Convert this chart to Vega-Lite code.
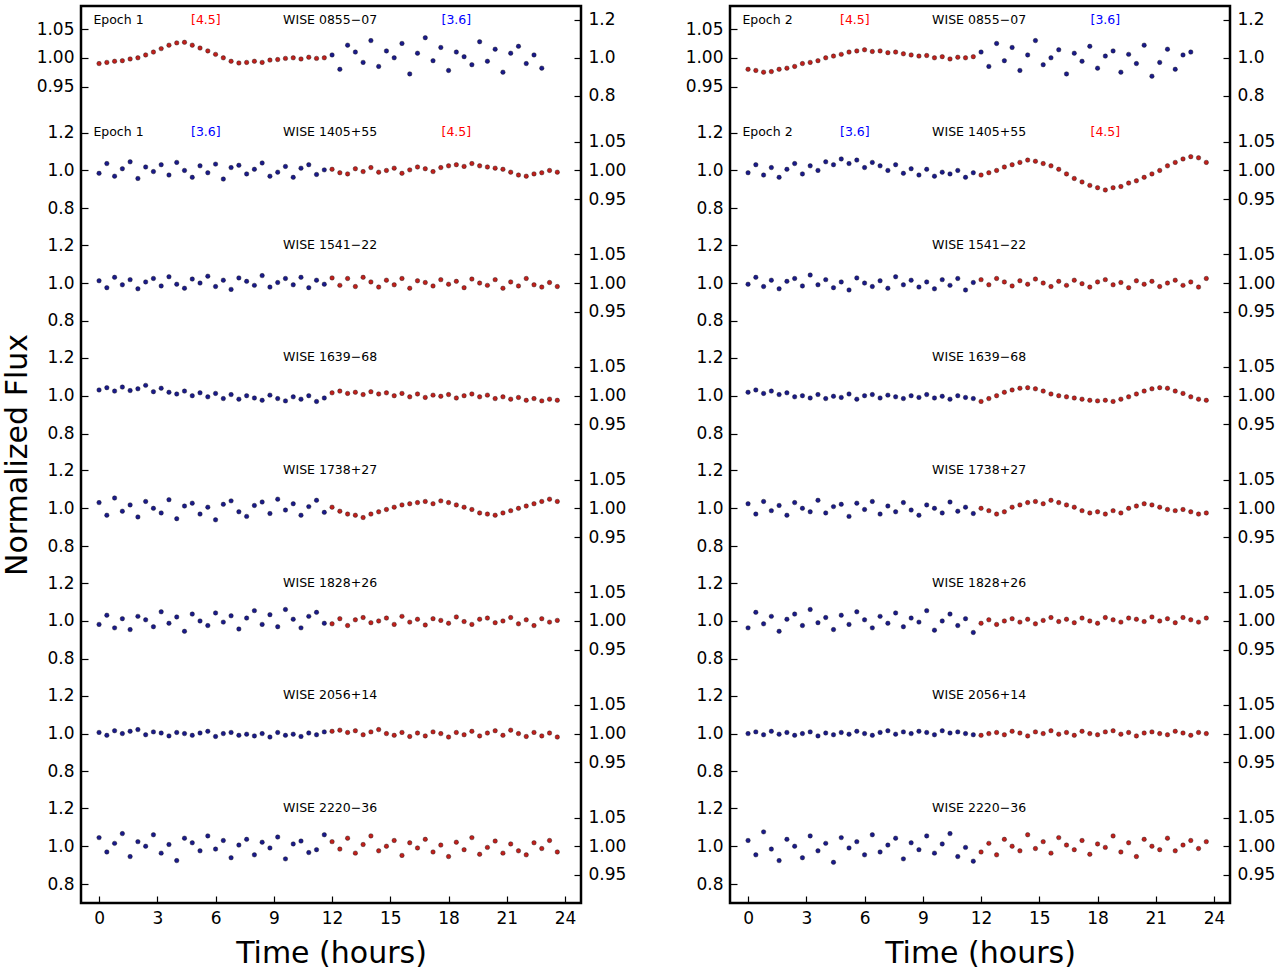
{
  "$schema": "https://vega.github.io/schema/vega-lite/v6.json",
  "background": "white",
  "padding": {"left": 0, "top": 4, "right": 5, "bottom": 5},
  "config": {
    "font": "DejaVu Sans",
    "view": {"stroke": "black", "strokeWidth": 2.5},
    "axis": {"grid": false, "domain": false, "tickColor": "black", "tickSize": -7, "tickWidth": 1.2, "labelFontSize": 17, "labelColor": "black", "labelPadding": 14, "titleFontWeight": "normal", "titleFontSize": 30, "titleColor": "black"}
  },
  "datasets": {
    "curves": [
      {"p":1,"r":7,"t":[0,0.4,0.8,1.2,1.6,2,2.4,2.8,3.2,3.6,4,4.4,4.8,5.2,5.6,6,6.4,6.8,7.2,7.6,8,8.4,8.8,9.2,9.6,10,10.4,10.8,11.2,11.6,12,12.4,12.8,13.2,13.6,14,14.4,14.8,15.2,15.6,16,16.4,16.8,17.2,17.6,18,18.4,18.8,19.2,19.6,20,20.4,20.8,21.2,21.6,22,22.4,22.8],"d":[-10,-8,-6,-5,-2,0,5,10,16,22,26,27,22,17,12,6,0,-6,-9,-8,-6,-8,-4,-3,-1,0,-2,1,-1,0,5,-20,22,10,-8,30,-15,12,0,25,-28,8,35,-5,18,-22,10,2,-12,28,-6,15,-25,8,20,-10,5,-18]},
      {"p":1,"r":6,"t":[0,0.4,0.8,1.2,1.6,2,2.4,2.8,3.2,3.6,4,4.4,4.8,5.2,5.6,6,6.4,6.8,7.2,7.6,8,8.4,8.8,9.2,9.6,10,10.4,10.8,11.2,11.6,12,12.4,12.8,13.2,13.6,14,14.4,14.8,15.2,15.6,16,16.4,16.8,17.2,17.6,18,18.4,18.8,19.2,19.6,20,20.4,20.8,21.2,21.6,22,22.4,22.8,23.2,23.6],"d":[-5,12,-10,3,15,-14,6,-2,10,-8,14,0,-12,8,-4,11,-15,5,9,-6,2,13,-10,-3,7,-12,4,10,-7,1,2,-4,-6,3,-2,5,-3,0,4,-5,1,6,3,-2,5,8,10,7,12,8,6,4,2,-3,-8,-10,-6,-4,0,-3]},
      {"p":1,"r":5,"t":[0,0.4,0.8,1.2,1.6,2,2.4,2.8,3.2,3.6,4,4.4,4.8,5.2,5.6,6,6.4,6.8,7.2,7.6,8,8.4,8.8,9.2,9.6,10,10.4,10.8,11.2,11.6,12,12.4,12.8,13.2,13.6,14,14.4,14.8,15.2,15.6,16,16.4,16.8,17.2,17.6,18,18.4,18.8,19.2,19.6,20,20.4,20.8,21.2,21.6,22,22.4,22.8,23.2,23.6],"d":[4,-8,10,-3,6,-10,2,8,-5,11,-2,-9,7,0,12,-6,5,-11,9,3,-4,13,-7,1,8,-3,10,-8,5,-2,9,-4,8,-6,10,2,-7,5,-3,8,-9,4,1,-5,6,-2,3,-8,7,0,-4,6,-9,2,-5,8,-3,-7,1,-6]},
      {"p":1,"r":4,"t":[0,0.4,0.8,1.2,1.6,2,2.4,2.8,3.2,3.6,4,4.4,4.8,5.2,5.6,6,6.4,6.8,7.2,7.6,8,8.4,8.8,9.2,9.6,10,10.4,10.8,11.2,11.6,12,12.4,12.8,13.2,13.6,14,14.4,14.8,15.2,15.6,16,16.4,16.8,17.2,17.6,18,18.4,18.8,19.2,19.6,20,20.4,20.8,21.2,21.6,22,22.4,22.8,23.2,23.6],"d":[10,14,8,15,9,12,18,7,13,6,3,8,0,5,-2,4,-5,2,-6,0,-4,-8,1,-5,-9,-2,-6,0,-10,-4,5,8,4,6,2,7,3,5,0,4,-2,3,-3,1,-1,2,-4,0,3,-2,1,-5,-2,-6,-3,-8,-5,-9,-6,-8]},
      {"p":1,"r":3,"t":[0,0.4,0.8,1.2,1.6,2,2.4,2.8,3.2,3.6,4,4.4,4.8,5.2,5.6,6,6.4,6.8,7.2,7.6,8,8.4,8.8,9.2,9.6,10,10.4,10.8,11.2,11.6,12,12.4,12.8,13.2,13.6,14,14.4,14.8,15.2,15.6,16,16.4,16.8,17.2,17.6,18,18.4,18.8,19.2,19.6,20,20.4,20.8,21.2,21.6,22,22.4,22.8,23.2,23.6],"d":[10,-12,18,-5,6,-15,12,0,-8,15,-18,4,9,-10,2,-20,7,13,-6,-14,5,11,-9,16,-3,8,-12,3,14,-7,2,-5,-10,-12,-16,-10,-6,-2,2,6,8,10,12,8,13,10,6,2,-2,-8,-10,-12,-8,-4,0,4,8,12,16,12]},
      {"p":1,"r":2,"t":[0,0.4,0.8,1.2,1.6,2,2.4,2.8,3.2,3.6,4,4.4,4.8,5.2,5.6,6,6.4,6.8,7.2,7.6,8,8.4,8.8,9.2,9.6,10,10.4,10.8,11.2,11.6,12,12.4,12.8,13.2,13.6,14,14.4,14.8,15.2,15.6,16,16.4,16.8,17.2,17.6,18,18.4,18.8,19.2,19.6,20,20.4,20.8,21.2,21.6,22,22.4,22.8,23.2,23.6],"d":[-6,10,-12,4,-15,8,2,-10,16,-4,7,-18,12,0,-8,14,-2,9,-14,5,18,-6,11,-10,20,3,-12,8,15,-4,-5,4,-8,2,6,-3,0,5,-6,8,-2,3,-7,4,1,-4,7,-1,-6,3,5,-3,0,6,-5,2,-8,4,-2,1]},
      {"p":1,"r":1,"t":[0,0.4,0.8,1.2,1.6,2,2.4,2.8,3.2,3.6,4,4.4,4.8,5.2,5.6,6,6.4,6.8,7.2,7.6,8,8.4,8.8,9.2,9.6,10,10.4,10.8,11.2,11.6,12,12.4,12.8,13.2,13.6,14,14.4,14.8,15.2,15.6,16,16.4,16.8,17.2,17.6,18,18.4,18.8,19.2,19.6,20,20.4,20.8,21.2,21.6,22,22.4,22.8,23.2,23.6],"d":[2,-3,5,0,4,7,-2,3,1,-4,2,0,-3,1,4,-5,0,2,-3,-1,-4,0,-6,2,-3,-1,-5,1,-2,3,4,6,2,5,-2,3,7,0,-3,2,-5,1,-4,3,0,-6,2,-2,4,-4,1,5,-3,6,0,-5,2,-4,1,-6]},
      {"p":1,"r":0,"t":[0,0.4,0.8,1.2,1.6,2,2.4,2.8,3.2,3.6,4,4.4,4.8,5.2,5.6,6,6.4,6.8,7.2,7.6,8,8.4,8.8,9.2,9.6,10,10.4,10.8,11.2,11.6,12,12.4,12.8,13.2,13.6,14,14.4,14.8,15.2,15.6,16,16.4,16.8,17.2,17.6,18,18.4,18.8,19.2,19.6,20,20.4,20.8,21.2,21.6,22,22.4,22.8,23.2,23.6],"d":[15,-10,5,22,-18,8,0,20,-12,3,-25,14,6,-8,18,-5,10,-20,2,12,-15,7,-3,16,-22,4,9,-11,-6,20,8,-5,14,-12,3,18,-8,0,10,-16,6,-3,12,-10,2,-18,7,-6,15,-14,-2,9,-12,4,-8,-15,6,-4,10,-10]},
      {"p":2,"r":7,"t":[0,0.4,0.8,1.2,1.6,2,2.4,2.8,3.2,3.6,4,4.4,4.8,5.2,5.6,6,6.4,6.8,7.2,7.6,8,8.4,8.8,9.2,9.6,10,10.4,10.8,11.2,11.6,12,12.4,12.8,13.2,13.6,14,14.4,14.8,15.2,15.6,16,16.4,16.8,17.2,17.6,18,18.4,18.8,19.2,19.6,20,20.4,20.8,21.2,21.6,22,22.4,22.8],"d":[-20,-22,-25,-24,-20,-18,-15,-10,-8,-5,0,3,6,10,12,14,11,12,9,10,7,5,3,4,0,2,-2,1,0,2,10,-15,25,-5,18,-22,5,30,-12,0,14,-28,8,-6,20,-18,3,12,-25,6,-10,22,-32,-8,15,-20,5,10]},
      {"p":2,"r":6,"t":[0,0.4,0.8,1.2,1.6,2,2.4,2.8,3.2,3.6,4,4.4,4.8,5.2,5.6,6,6.4,6.8,7.2,7.6,8,8.4,8.8,9.2,9.6,10,10.4,10.8,11.2,11.6,12,12.4,12.8,13.2,13.6,14,14.4,14.8,15.2,15.6,16,16.4,16.8,17.2,17.6,18,18.4,18.8,19.2,19.6,20,20.4,20.8,21.2,21.6,22,22.4,22.8,23.2,23.6],"d":[-4,10,-8,5,-12,2,12,-6,8,0,15,10,20,12,18,5,14,8,0,10,-5,3,-8,2,-10,-3,-6,0,-12,-4,-8,-4,0,6,10,14,18,16,12,8,2,-6,-14,-20,-26,-30,-34,-30,-28,-22,-18,-12,-6,0,8,14,20,24,22,14]},
      {"p":2,"r":5,"t":[0,0.4,0.8,1.2,1.6,2,2.4,2.8,3.2,3.6,4,4.4,4.8,5.2,5.6,6,6.4,6.8,7.2,7.6,8,8.4,8.8,9.2,9.6,10,10.4,10.8,11.2,11.6,12,12.4,12.8,13.2,13.6,14,14.4,14.8,15.2,15.6,16,16.4,16.8,17.2,17.6,18,18.4,18.8,19.2,19.6,20,20.4,20.8,21.2,21.6,22,22.4,22.8,23.2,23.6],"d":[-2,10,-6,5,-10,3,8,-5,14,-3,6,-8,2,-12,9,0,-6,4,-9,11,-3,5,-7,2,-10,6,-4,8,-12,1,6,-3,8,2,-5,4,-2,7,0,-6,3,-4,5,-1,-7,2,6,-3,1,-8,4,-2,3,-6,0,5,-4,2,-7,8]},
      {"p":2,"r":4,"t":[0,0.4,0.8,1.2,1.6,2,2.4,2.8,3.2,3.6,4,4.4,4.8,5.2,5.6,6,6.4,6.8,7.2,7.6,8,8.4,8.8,9.2,9.6,10,10.4,10.8,11.2,11.6,12,12.4,12.8,13.2,13.6,14,14.4,14.8,15.2,15.6,16,16.4,16.8,17.2,17.6,18,18.4,18.8,19.2,19.6,20,20.4,20.8,21.2,21.6,22,22.4,22.8,23.2,23.6],"d":[6,10,4,8,2,5,-2,0,-4,2,-5,-1,-3,3,-6,0,2,-4,1,-2,-5,0,-3,2,-4,-1,-6,0,-3,-5,-10,-5,0,6,10,13,14,12,8,3,0,-2,-4,-6,-8,-9,-8,-10,-6,-2,3,8,12,14,13,8,4,-2,-6,-8]},
      {"p":2,"r":3,"t":[0,0.4,0.8,1.2,1.6,2,2.4,2.8,3.2,3.6,4,4.4,4.8,5.2,5.6,6,6.4,6.8,7.2,7.6,8,8.4,8.8,9.2,9.6,10,10.4,10.8,11.2,11.6,12,12.4,12.8,13.2,13.6,14,14.4,14.8,15.2,15.6,16,16.4,16.8,17.2,17.6,18,18.4,18.8,19.2,19.6,20,20.4,20.8,21.2,21.6,22,22.4,22.8,23.2,23.6],"d":[8,-10,12,-4,5,-12,10,0,-6,14,-8,3,7,-14,9,-2,12,-10,4,-6,10,-3,-12,6,0,-8,11,-5,2,-9,0,-4,-10,-6,2,6,10,12,8,14,10,6,2,-4,-8,-6,-10,-4,-8,0,4,8,6,2,-2,-4,-2,-6,-10,-8]},
      {"p":2,"r":2,"t":[0,0.4,0.8,1.2,1.6,2,2.4,2.8,3.2,3.6,4,4.4,4.8,5.2,5.6,6,6.4,6.8,7.2,7.6,8,8.4,8.8,9.2,9.6,10,10.4,10.8,11.2,11.6,12,12.4,12.8,13.2,13.6,14,14.4,14.8,15.2,15.6,16,16.4,16.8,17.2,17.6,18,18.4,18.8,19.2,19.6,20,20.4,20.8,21.2,21.6,22,22.4,22.8,23.2,23.6],"d":[-12,15,-5,8,-18,3,12,-8,20,-3,6,-15,10,-6,16,2,-12,8,-4,14,-10,5,-2,18,-16,0,12,-8,4,-20,-4,2,-6,0,4,-2,3,-5,1,6,-1,3,-3,5,0,-4,6,2,-2,5,3,-1,7,0,4,-3,6,2,-2,5]},
      {"p":2,"r":1,"t":[0,0.4,0.8,1.2,1.6,2,2.4,2.8,3.2,3.6,4,4.4,4.8,5.2,5.6,6,6.4,6.8,7.2,7.6,8,8.4,8.8,9.2,9.6,10,10.4,10.8,11.2,11.6,12,12.4,12.8,13.2,13.6,14,14.4,14.8,15.2,15.6,16,16.4,16.8,17.2,17.6,18,18.4,18.8,19.2,19.6,20,20.4,20.8,21.2,21.6,22,22.4,22.8,23.2,23.6],"d":[0,3,-2,4,-1,2,-3,0,3,-4,1,-2,2,-1,4,0,-3,2,5,-1,3,0,4,2,-2,5,1,3,0,-2,-3,0,2,-2,4,1,-4,3,0,5,-1,2,-3,4,0,-2,3,5,-1,2,-4,1,3,0,-2,4,1,-3,2,0]},
      {"p":2,"r":0,"t":[0,0.4,0.8,1.2,1.6,2,2.4,2.8,3.2,3.6,4,4.4,4.8,5.2,5.6,6,6.4,6.8,7.2,7.6,8,8.4,8.8,9.2,9.6,10,10.4,10.8,11.2,11.6,12,12.4,12.8,13.2,13.6,14,14.4,14.8,15.2,15.6,16,16.4,16.8,17.2,17.6,18,18.4,18.8,19.2,19.6,20,20.4,20.8,21.2,21.6,22,22.4,22.8,23.2,23.6],"d":[10,-15,25,-5,-25,12,0,-20,18,-8,5,-28,15,-3,8,-15,20,-10,2,14,-22,6,-6,18,-12,4,22,-18,-2,-26,-10,5,-15,12,0,-8,20,-4,8,-12,15,2,-6,10,-14,4,-2,18,-10,6,-18,12,0,-6,14,-8,2,10,-4,8]}
    ],
    "labels": [
      {"p":1,"r":7,"x":1.0,"s":"Epoch 1","c":"black"},
      {"p":1,"r":7,"x":5.5,"s":"[4.5]","c":"#ff0000"},
      {"p":1,"r":7,"x":11.9,"s":"WISE 0855−07","c":"black"},
      {"p":1,"r":7,"x":18.4,"s":"[3.6]","c":"#0000ff"},
      {"p":1,"r":6,"x":1.0,"s":"Epoch 1","c":"black"},
      {"p":1,"r":6,"x":5.5,"s":"[3.6]","c":"#0000ff"},
      {"p":1,"r":6,"x":11.9,"s":"WISE 1405+55","c":"black"},
      {"p":1,"r":6,"x":18.4,"s":"[4.5]","c":"#ff0000"},
      {"p":1,"r":5,"x":11.9,"s":"WISE 1541−22","c":"black"},
      {"p":1,"r":4,"x":11.9,"s":"WISE 1639−68","c":"black"},
      {"p":1,"r":3,"x":11.9,"s":"WISE 1738+27","c":"black"},
      {"p":1,"r":2,"x":11.9,"s":"WISE 1828+26","c":"black"},
      {"p":1,"r":1,"x":11.9,"s":"WISE 2056+14","c":"black"},
      {"p":1,"r":0,"x":11.9,"s":"WISE 2220−36","c":"black"},
      {"p":2,"r":7,"x":1.0,"s":"Epoch 2","c":"black"},
      {"p":2,"r":7,"x":5.5,"s":"[4.5]","c":"#ff0000"},
      {"p":2,"r":7,"x":11.9,"s":"WISE 0855−07","c":"black"},
      {"p":2,"r":7,"x":18.4,"s":"[3.6]","c":"#0000ff"},
      {"p":2,"r":6,"x":1.0,"s":"Epoch 2","c":"black"},
      {"p":2,"r":6,"x":5.5,"s":"[3.6]","c":"#0000ff"},
      {"p":2,"r":6,"x":11.9,"s":"WISE 1405+55","c":"black"},
      {"p":2,"r":6,"x":18.4,"s":"[4.5]","c":"#ff0000"},
      {"p":2,"r":5,"x":11.9,"s":"WISE 1541−22","c":"black"},
      {"p":2,"r":4,"x":11.9,"s":"WISE 1639−68","c":"black"},
      {"p":2,"r":3,"x":11.9,"s":"WISE 1738+27","c":"black"},
      {"p":2,"r":2,"x":11.9,"s":"WISE 1828+26","c":"black"},
      {"p":2,"r":1,"x":11.9,"s":"WISE 2056+14","c":"black"},
      {"p":2,"r":0,"x":11.9,"s":"WISE 2220−36","c":"black"}
    ]
  },
  "spacing": 55,
  "hconcat": [
    {
      "width": 500, "height": 897,
      "resolve": {"scale": {"y": "independent", "x": "independent"}},
      "layer": [
        {
          "data": {"name": "curves"},
          "transform": [
            {"filter": "datum.p == 1"},
            {"flatten": ["t", "d"]},
            {"calculate": "datum.r + datum.d * 0.0051", "as": "y"},
            {"calculate": "((datum.r == 7) == (datum.t < 12)) ? '4.5' : '3.6'", "as": "band"}
          ],
          "mark": {"type": "circle", "size": 20, "opacity": 1, "stroke": "#111", "strokeWidth": 0.4},
          "encoding": {
            "x": {"field": "t", "type": "quantitative", "scale": {"domain": [-0.93, 24.82], "nice": false, "zero": false},
              "axis": {"values": [0,3,6,9,12,15,18,21,24], "title": "Time (hours)", "titlePadding": 12}},
            "y": {"field": "y", "type": "quantitative", "scale": {"domain": [-0.504, 7.46], "nice": false, "zero": false},
              "axis": {"orient": "left", "title": "Normalized Flux", "titlePadding": 4,
                "values": [6.745,7,7.255,-0.336,0,0.336,0.664,1,1.336,1.664,2,2.336,2.664,3,3.336,3.664,4,4.336,4.664,5,5.336,5.664,6,6.336],
                "labelExpr": "datum.value > 6.6 ? (abs(datum.value - round(datum.value)) < 0.01 ? '1.00' : (datum.value > round(datum.value) ? '1.05' : '0.95')) : (abs(datum.value - round(datum.value)) < 0.01 ? '1.0' : (datum.value > round(datum.value) ? '1.2' : '0.8'))"}},
            "color": {"field": "band", "type": "nominal", "scale": {"domain": ["3.6", "4.5"], "range": ["#1a1a8a", "#c0201c"]}, "legend": null}
          }
        },
        {
          "data": {"name": "labels"},
          "transform": [
            {"filter": "datum.p == 1"},
            {"calculate": "datum.r + 0.34", "as": "y"}
          ],
          "mark": {"type": "text", "fontSize": 12.5, "align": "center", "baseline": "middle"},
          "encoding": {
            "x": {"field": "x", "type": "quantitative", "scale": {"domain": [-0.93, 24.82], "nice": false, "zero": false}, "axis": null},
            "y": {"field": "y", "type": "quantitative", "scale": {"domain": [-0.504, 7.46], "nice": false, "zero": false},
              "axis": {"orient": "right", "title": null,
                "values": [6.664,7,7.336,-0.255,0,0.255,0.745,1,1.255,1.745,2,2.255,2.745,3,3.255,3.745,4,4.255,4.745,5,5.255,5.745,6,6.255],
                "labelExpr": "datum.value > 6.6 ? (abs(datum.value - round(datum.value)) < 0.01 ? '1.0' : (datum.value > round(datum.value) ? '1.2' : '0.8')) : (abs(datum.value - round(datum.value)) < 0.01 ? '1.00' : (datum.value > round(datum.value) ? '1.05' : '0.95'))"}},
            "text": {"field": "s"},
            "color": {"field": "c", "type": "nominal", "scale": null}
          }
        }
      ]
    },
    {
      "width": 500, "height": 897,
      "resolve": {"scale": {"y": "independent", "x": "independent"}},
      "layer": [
        {
          "data": {"name": "curves"},
          "transform": [
            {"filter": "datum.p == 2"},
            {"flatten": ["t", "d"]},
            {"calculate": "datum.r + datum.d * 0.0051", "as": "y"},
            {"calculate": "((datum.r == 7) == (datum.t < 12)) ? '4.5' : '3.6'", "as": "band"}
          ],
          "mark": {"type": "circle", "size": 20, "opacity": 1, "stroke": "#111", "strokeWidth": 0.4},
          "encoding": {
            "x": {"field": "t", "type": "quantitative", "scale": {"domain": [-0.93, 24.82], "nice": false, "zero": false},
              "axis": {"values": [0,3,6,9,12,15,18,21,24], "title": "Time (hours)", "titlePadding": 12}},
            "y": {"field": "y", "type": "quantitative", "scale": {"domain": [-0.504, 7.46], "nice": false, "zero": false},
              "axis": {"orient": "left", "title": null,
                "values": [6.745,7,7.255,-0.336,0,0.336,0.664,1,1.336,1.664,2,2.336,2.664,3,3.336,3.664,4,4.336,4.664,5,5.336,5.664,6,6.336],
                "labelExpr": "datum.value > 6.6 ? (abs(datum.value - round(datum.value)) < 0.01 ? '1.00' : (datum.value > round(datum.value) ? '1.05' : '0.95')) : (abs(datum.value - round(datum.value)) < 0.01 ? '1.0' : (datum.value > round(datum.value) ? '1.2' : '0.8'))"}},
            "color": {"field": "band", "type": "nominal", "scale": {"domain": ["3.6", "4.5"], "range": ["#1a1a8a", "#c0201c"]}, "legend": null}
          }
        },
        {
          "data": {"name": "labels"},
          "transform": [
            {"filter": "datum.p == 2"},
            {"calculate": "datum.r + 0.34", "as": "y"}
          ],
          "mark": {"type": "text", "fontSize": 12.5, "align": "center", "baseline": "middle"},
          "encoding": {
            "x": {"field": "x", "type": "quantitative", "scale": {"domain": [-0.93, 24.82], "nice": false, "zero": false}, "axis": null},
            "y": {"field": "y", "type": "quantitative", "scale": {"domain": [-0.504, 7.46], "nice": false, "zero": false},
              "axis": {"orient": "right", "title": null,
                "values": [6.664,7,7.336,-0.255,0,0.255,0.745,1,1.255,1.745,2,2.255,2.745,3,3.255,3.745,4,4.255,4.745,5,5.255,5.745,6,6.255],
                "labelExpr": "datum.value > 6.6 ? (abs(datum.value - round(datum.value)) < 0.01 ? '1.0' : (datum.value > round(datum.value) ? '1.2' : '0.8')) : (abs(datum.value - round(datum.value)) < 0.01 ? '1.00' : (datum.value > round(datum.value) ? '1.05' : '0.95'))"}},
            "text": {"field": "s"},
            "color": {"field": "c", "type": "nominal", "scale": null}
          }
        }
      ]
    }
  ]
}
